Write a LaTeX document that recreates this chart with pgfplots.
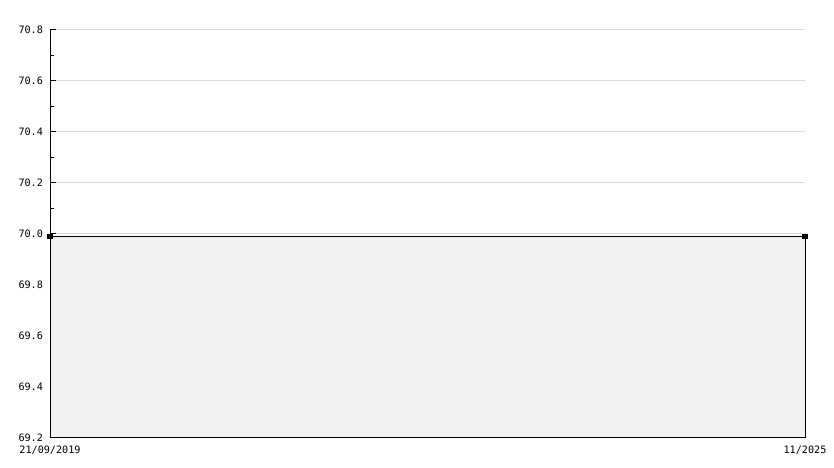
\documentclass[border=0pt]{standalone}
\usepackage{pgfplots}
\pgfplotsset{compat=1.18}
\usepackage{fontspec}
\setmonofont{DejaVu Sans Mono}
\definecolor{areafill}{HTML}{F1F1F1}
\definecolor{gridc}{HTML}{DCDCDC}
\begin{document}
\begin{tikzpicture}[x=1bp,y=1bp]
\useasboundingbox (0,0) rectangle (834,468);
\begin{axis}[
  at={(50bp,30bp)}, anchor=south west,
  scale only axis, width=755bp, height=408bp,
  xmin=0, xmax=1, ymin=69.2, ymax=70.8,
  axis x line*=bottom, axis y line*=left,
  axis line style={black, line width=1bp, -},
  xtick={0,1}, xticklabels={21/09/2019,11/2025},
  x tick style={draw=none},
  ytick={69.2,69.4,...,70.8},
  minor y tick num=1,
  y tick style={black, line width=1bp},
  major tick length=6bp, minor tick length=4bp,
  tick align=inside,
  ymajorgrids, major grid style={gridc, line width=1bp},
  yticklabel style={/pgf/number format/fixed, /pgf/number format/fixed zerofill, /pgf/number format/precision=1, xshift=-3.5bp},
  tick label style={font=\ttfamily\fontsize{10.2}{11}\selectfont, text=black},
  /pgf/number format/assume math mode=true,
  xticklabel style={yshift=-4bp},
  clip=false,
]
\addplot[fill=areafill, draw=black, line width=1bp] coordinates {(0,69.2) (0,69.99) (1,69.99) (1,69.2)} -- cycle;
\addplot[black, line width=1bp, mark=square*, mark size=2.2bp, mark options={solid, fill=black}] coordinates {(0,69.99) (1,69.99)};
\end{axis}
\end{tikzpicture}
\end{document}
